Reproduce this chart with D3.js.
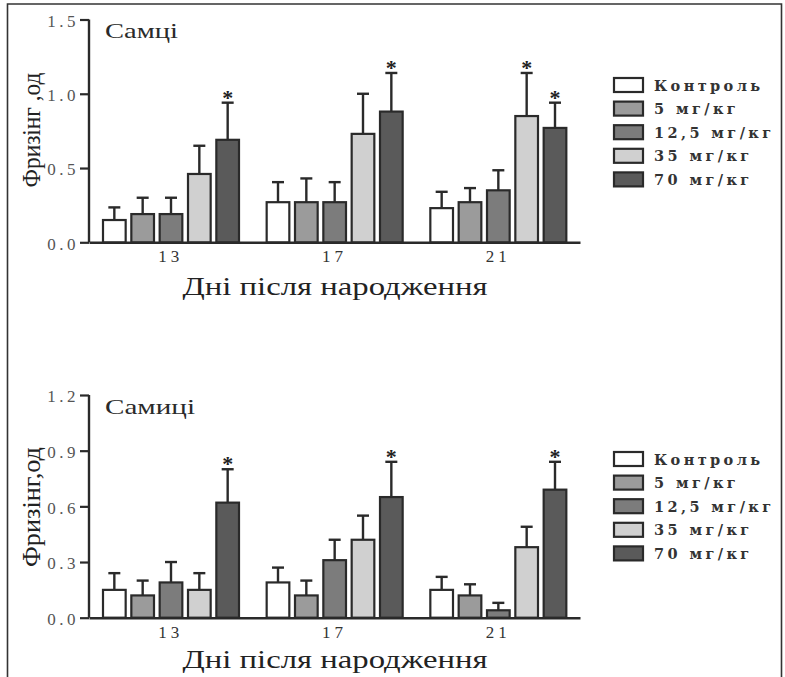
<!DOCTYPE html>
<html><head><meta charset="utf-8">
<script src="https://cdn.jsdelivr.net/npm/d3@7"></script>
<style>body{margin:0;background:#fff}svg{display:block}
.serif{font-family:"Liberation Serif","Times New Roman",serif}
.wide{font-family:"DejaVu Serif",serif}
</style>
</head><body>
<svg id="c" width="785" height="677"></svg>
<script>
const days = ["13","17","21"];
const series = ["Контроль","5 мг/кг","12,5 мг/кг","35 мг/кг","70 мг/кг"];
const colors = ["#ffffff","#9b9b9b","#7c7c7c","#d0d0d0","#5a5a5a"];
// Males (top)
const maleMean = [
  [0.15,0.19,0.19,0.46,0.69],
  [0.27,0.27,0.27,0.73,0.88],
  [0.23,0.27,0.35,0.85,0.77]
];
const maleErr = [
  [0.085,0.11,0.11,0.19,0.25],
  [0.135,0.16,0.135,0.27,0.26],
  [0.11,0.095,0.135,0.29,0.17]
];
const maleSig = [[0,0,0,0,1],[0,0,0,0,1],[0,0,0,1,1]];
const maleTicks = [0,0.5,1.0,1.5];
// Females (bottom)
const femMean = [
  [0.15,0.12,0.19,0.15,0.62],
  [0.19,0.12,0.31,0.42,0.65],
  [0.15,0.12,0.04,0.38,0.69]
];
const femErr = [
  [0.09,0.08,0.11,0.09,0.18],
  [0.08,0.08,0.11,0.13,0.19],
  [0.07,0.06,0.04,0.11,0.15]
];
const femSig = [[0,0,0,0,1],[0,0,0,0,1],[0,0,0,0,1]];
const femTicks = [0,0.3,0.6,0.9,1.2];

const svg = d3.select("#c");
// frame
svg.append("path").attr("d","M7.5,677 V4 H781.5 V677").attr("fill","none").attr("stroke","#333").attr("stroke-width",1.6);

function panel(o){
  const g = svg.append("g");
  const y = d3.scaleLinear().domain([0,o.ymax]).range([o.y0,o.y1]);
  const x0 = d3.scaleBand().domain(days).range([89,580]).padding(0);
  const x1 = d3.scaleBand().domain(series).range([14,150]).paddingInner(0.2).paddingOuter(0);
  // y axis
  const ya = g.append("g").attr("transform","translate(89,0)")
    .call(d3.axisLeft(y).tickValues(o.ticks).tickFormat(d3.format(".1f")).tickSize(9).tickPadding(1));
  ya.attr("font-family",null);
  ya.select(".domain").attr("stroke","#2a2a2a").attr("stroke-width",2.4).attr("d",`M0,${o.y0}V${o.y1}`);
  ya.selectAll(".tick line").attr("stroke","#2a2a2a").attr("stroke-width",2.2);
  ya.selectAll(".tick text").attr("class","serif").attr("font-size",17).attr("fill","#555")
    .attr("letter-spacing","3.5px").attr("dy","0.4em");
  // x axis
  const xa = g.append("g").attr("transform",`translate(0,${o.y0})`)
    .call(d3.axisBottom(x0).tickSize(0).tickPadding(8));
  xa.attr("font-family",null);
  xa.select(".domain").attr("stroke","#2a2a2a").attr("stroke-width",2.4);
  xa.selectAll(".tick text").attr("class","serif").attr("font-size",17).attr("fill","#333").attr("letter-spacing","4px");
  // bars
  o.mean.forEach((row,i)=>{
    const gg = g.append("g").attr("transform",`translate(${x0(days[i])},0)`);
    row.forEach((v,j)=>{
      const bx = x1(series[j]), bw = x1.bandwidth(), cx = bx+bw/2;
      const top = y(v+o.err[i][j]);
      gg.append("line").attr("x1",cx).attr("x2",cx).attr("y1",y(v)).attr("y2",top).attr("stroke","#2a2a2a").attr("stroke-width",2.4);
      gg.append("line").attr("x1",cx-6).attr("x2",cx+6).attr("y1",top).attr("y2",top).attr("stroke","#2a2a2a").attr("stroke-width",2.4);
      gg.append("rect").attr("x",bx).attr("y",y(v)).attr("width",bw).attr("height",o.y0-y(v))
        .attr("fill",colors[j]).attr("stroke","#2a2a2a").attr("stroke-width",2.2);
      if(o.sig[i][j]) gg.append("text").attr("x",cx).attr("y",top+2).attr("text-anchor","middle")
        .attr("class","serif").attr("font-weight","bold").attr("font-size",22).attr("fill","#222").text("*");
    });
  });
  // labels
  g.append("text").attr("x",105).attr("y",o.titleY).attr("class","serif").attr("font-size",21).attr("fill","#2a2a2a")
    .attr("textLength",o.titleLen).attr("lengthAdjust","spacingAndGlyphs").text(o.title);
  g.append("text").attr("transform",`translate(40,${o.ylabY}) rotate(-90)`).attr("text-anchor","middle")
    .attr("class","serif").attr("font-size",26).attr("fill","#222")
    .attr("textLength",o.ylabLen).attr("lengthAdjust","spacingAndGlyphs").text(o.ylab);
  g.append("text").attr("x",335).attr("y",o.xlabY).attr("text-anchor","middle")
    .attr("class","serif").attr("font-size",25).attr("fill","#222")
    .attr("textLength",305).attr("lengthAdjust","spacingAndGlyphs").text("Дні після народження");
  // legend
  const lg = g.append("g");
  series.forEach((s,j)=>{
    const cy = o.legY + j*23.6;
    lg.append("rect").attr("x",614).attr("y",cy-7).attr("width",29).attr("height",14)
      .attr("fill",colors[j]).attr("stroke","#2a2a2a").attr("stroke-width",2.2);
    lg.append("text").attr("x",654).attr("y",cy+5.5).attr("class","wide").attr("font-weight","bold")
      .attr("font-size",14.5).attr("letter-spacing","3.4px").attr("fill","#333").text(s);
  });
}

panel({ymax:1.5,y0:242.3,y1:19.5,ticks:maleTicks,mean:maleMean,err:maleErr,sig:maleSig,
  title:"Самці",titleY:37.5,titleLen:73,ylab:"Фризінг ,од",ylabY:130,ylabLen:115,xlabY:295,legY:85});
panel({ymax:1.2,y0:617.7,y1:395,ticks:femTicks,mean:femMean,err:femErr,sig:femSig,
  title:"Самиці",titleY:413.5,titleLen:90,ylab:"Фризінг,од",ylabY:507,ylabLen:120,xlabY:668,legY:459});
</script>
</body></html>
